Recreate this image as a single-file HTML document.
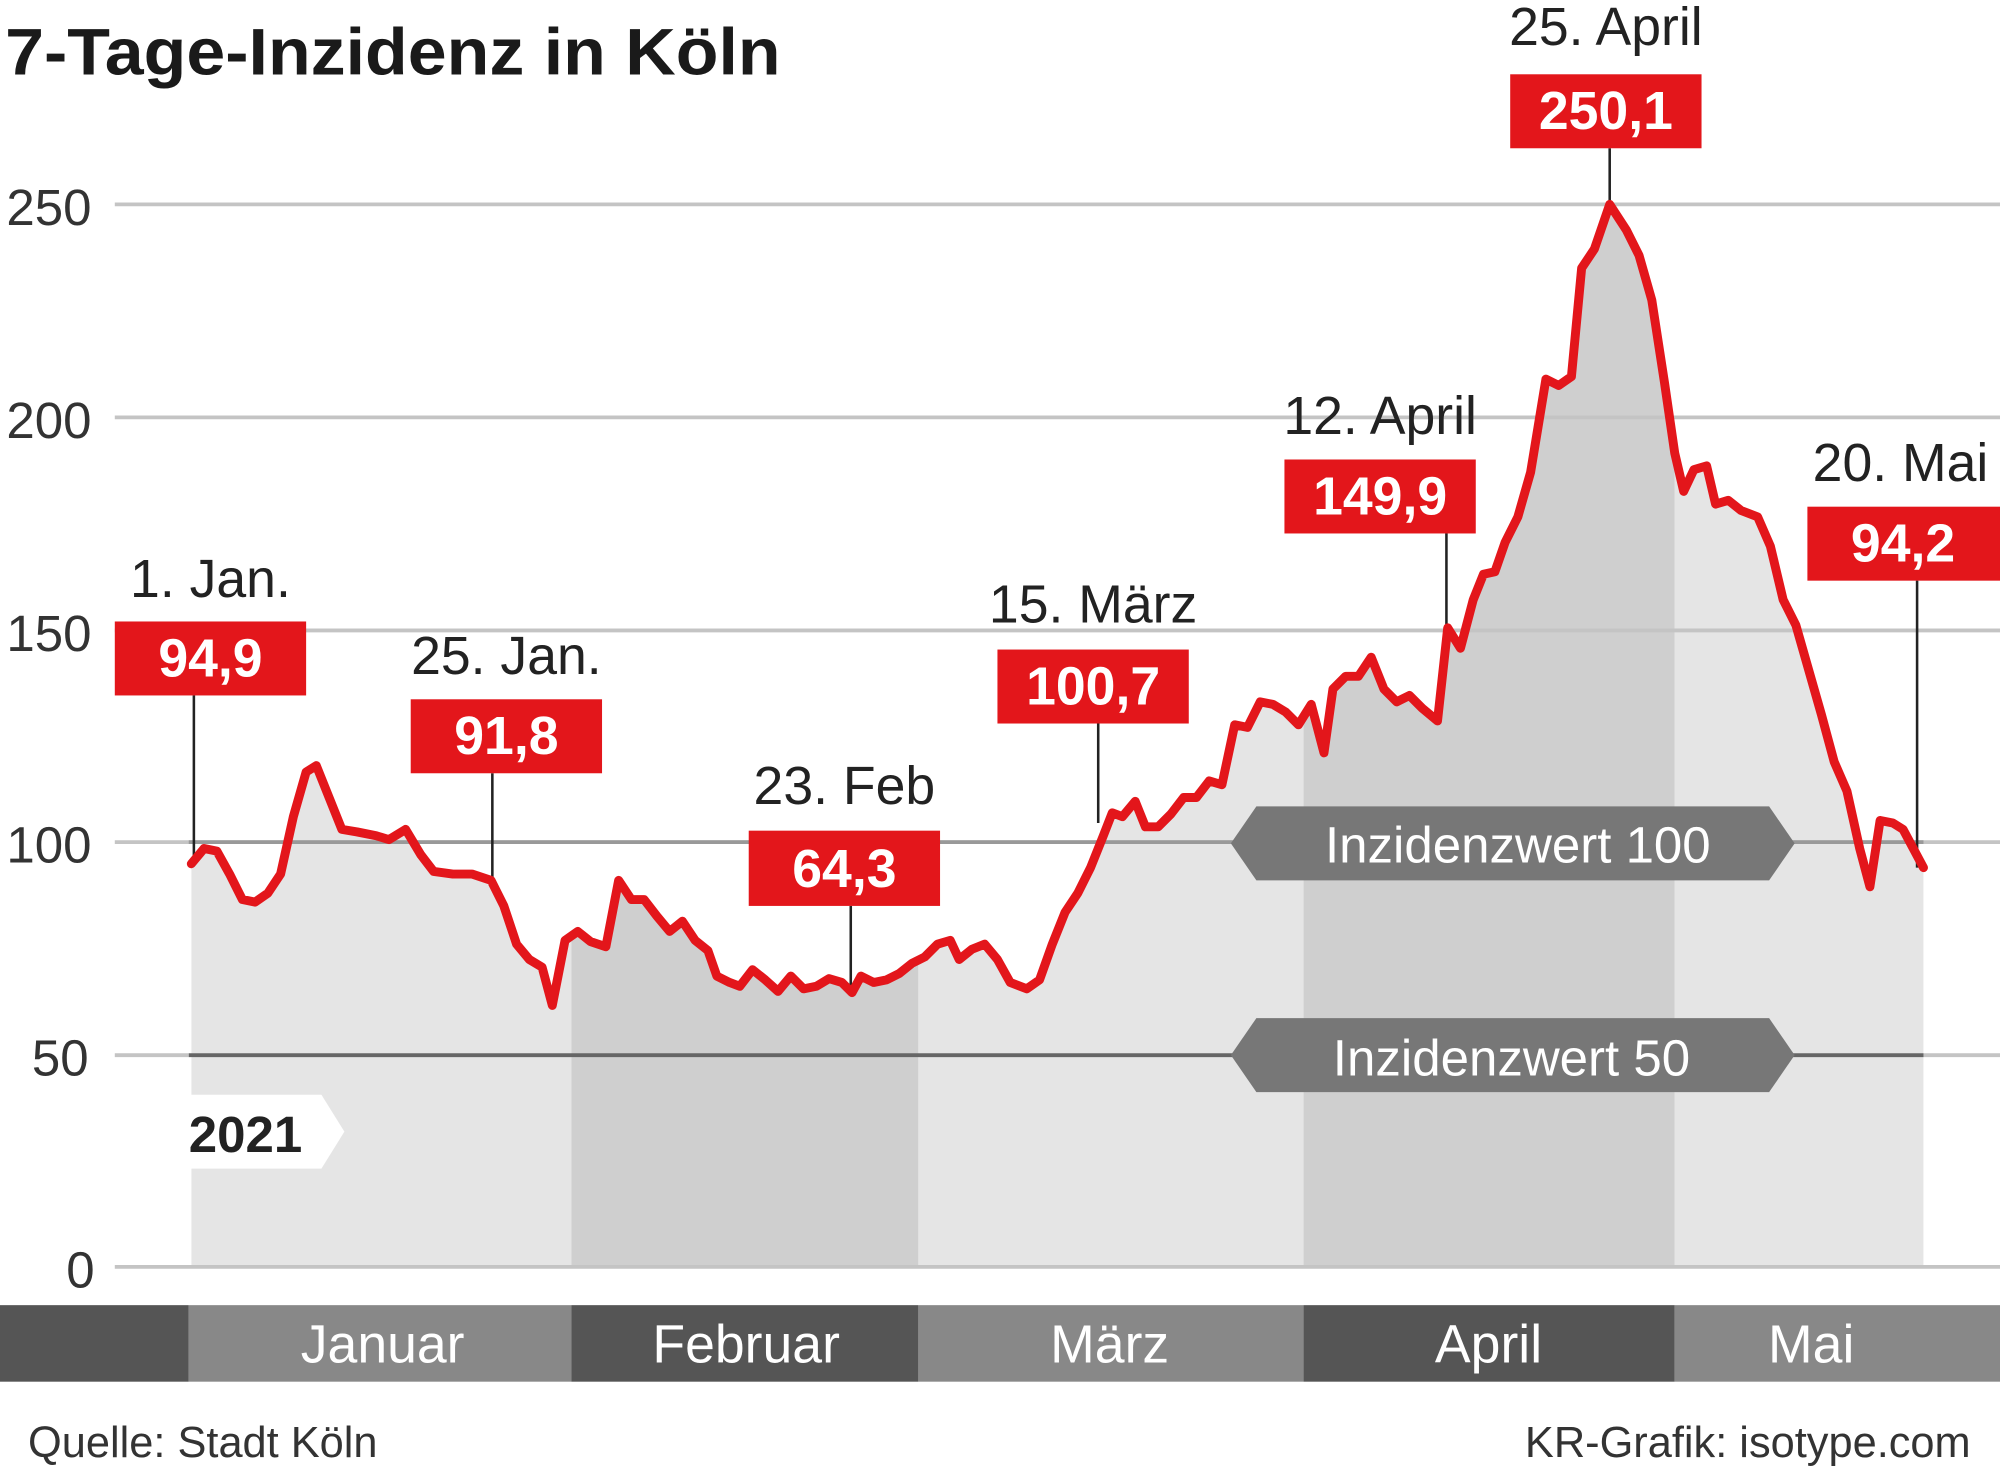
<!DOCTYPE html>
<html><head><meta charset="utf-8"><style>
html,body{margin:0;padding:0;background:#fff;}
svg{display:block;}
text{font-family:"Liberation Sans Narrow","Liberation Sans",sans-serif;}
</style></head><body>
<svg width="2000" height="1470" viewBox="0 0 1568 1152" xmlns="http://www.w3.org/2000/svg">
<defs>
<clipPath id="c"><polygon points="150,677 160,665 170,667 180,685 190,705 200,707 210,700 220,685 230,640 240,605 248,600 258,625 268,650 280,652 295,655 305,658 318,650 330,670 340,683 355,685 370,685 385,690 395,710 405,740 415,752 425,758 433,788 443,737 453,730 463,738 475,742 485,690 495,705 505,705 515,718 525,730 535,722 545,737 555,745 562,765 572,770 580,773 590,760 600,768 610,777 620,765 630,775 640,773 650,767 660,770 668,778 675,765 685,770 695,768 705,763 715,755 725,750 735,740 745,737 752,752 762,744 772,740 782,752 792,770 805,775 815,768 825,740 835,715 845,700 855,680 865,655 872,637 880,640 890,628 898,648 908,648 918,638 928,625 938,625 948,612 958,615 968,568 978,570 988,550 998,552 1008,558 1018,568 1028,552 1038,590 1045,540 1055,530 1065,530 1075,515 1085,540 1095,550 1105,545 1115,555 1127,565 1135,492 1145,508 1155,470 1163,450 1172,448 1180,425 1190,405 1200,370 1212,297 1222,302 1232,295 1240,210 1250,195 1262,160 1275,180 1285,200 1295,235 1305,300 1313,355 1320,385 1328,368 1338,365 1345,395 1355,392 1365,400 1378,405 1388,428 1398,470 1408,490 1418,525 1428,560 1438,597 1448,620 1458,665 1466,695 1474,643 1484,645 1492,650 1500,665 1508,680 1508,993 150,993"/></clipPath>
</defs>
<text x="4" y="58" font-size="52" font-weight="bold" fill="#1a1a1a" textLength="608" lengthAdjust="spacingAndGlyphs">7-Tage-Inzidenz in Köln</text>
<g clip-path="url(#c)">
<rect x="148" y="100" width="300" height="900" fill="#e5e5e5"/>
<rect x="448" y="100" width="272" height="900" fill="#cfcfcf"/>
<rect x="720" y="100" width="302" height="900" fill="#e5e5e5"/>
<rect x="1022" y="100" width="291" height="900" fill="#cfcfcf"/>
<rect x="1313" y="100" width="200" height="900" fill="#e5e5e5"/>
</g>
<g stroke="#c4c4c4" stroke-width="3">
<line x1="90" y1="160" x2="1568" y2="160"/><line x1="90" y1="327" x2="1568" y2="327"/>
<line x1="90" y1="494" x2="1568" y2="494"/><line x1="90" y1="660" x2="1568" y2="660"/>
<line x1="90" y1="827" x2="148" y2="827"/><line x1="1508" y1="827" x2="1568" y2="827"/>
<line x1="90" y1="993" x2="1568" y2="993"/>
</g>
<line x1="148" y1="660" x2="1508" y2="660" stroke="#999" stroke-width="3"/>
<line x1="148" y1="827" x2="1508" y2="827" stroke="#666" stroke-width="3"/>
<g font-size="40" fill="#333">
<text x="5" y="176">250</text><text x="5" y="343">200</text><text x="5" y="510">150</text>
<text x="5" y="676">100</text><text x="25" y="843">50</text><text x="52" y="1009">0</text>
</g>
<polygon points="965,661 985,632 1387,632 1407,661 1387,690 985,690" fill="#777"/>
<text x="1190" y="676" font-size="40" fill="#fff" text-anchor="middle">Inzidenzwert 100</text>
<polygon points="965,827 985,798 1387,798 1407,827 1387,856 985,856" fill="#777"/>
<text x="1185" y="843" font-size="40" fill="#fff" text-anchor="middle">Inzidenzwert 50</text>
<polygon points="148,858 252,858 270,887 252,916 148,916" fill="#fff"/>
<text x="148" y="903" font-size="40" font-weight="bold" fill="#222">2021</text>
<g stroke="#222" stroke-width="2">
<line x1="152" y1="545" x2="152" y2="677"/><line x1="386" y1="606" x2="386" y2="688"/>
<line x1="667" y1="710" x2="667" y2="778"/><line x1="861" y1="567" x2="861" y2="645"/>
<line x1="1134" y1="418" x2="1134" y2="492"/><line x1="1262" y1="116" x2="1262" y2="160"/>
<line x1="1503" y1="455" x2="1503" y2="680"/>
</g>
<polyline points="150,677 160,665 170,667 180,685 190,705 200,707 210,700 220,685 230,640 240,605 248,600 258,625 268,650 280,652 295,655 305,658 318,650 330,670 340,683 355,685 370,685 385,690 395,710 405,740 415,752 425,758 433,788 443,737 453,730 463,738 475,742 485,690 495,705 505,705 515,718 525,730 535,722 545,737 555,745 562,765 572,770 580,773 590,760 600,768 610,777 620,765 630,775 640,773 650,767 660,770 668,778 675,765 685,770 695,768 705,763 715,755 725,750 735,740 745,737 752,752 762,744 772,740 782,752 792,770 805,775 815,768 825,740 835,715 845,700 855,680 865,655 872,637 880,640 890,628 898,648 908,648 918,638 928,625 938,625 948,612 958,615 968,568 978,570 988,550 998,552 1008,558 1018,568 1028,552 1038,590 1045,540 1055,530 1065,530 1075,515 1085,540 1095,550 1105,545 1115,555 1127,565 1135,492 1145,508 1155,470 1163,450 1172,448 1180,425 1190,405 1200,370 1212,297 1222,302 1232,295 1240,210 1250,195 1262,160 1275,180 1285,200 1295,235 1305,300 1313,355 1320,385 1328,368 1338,365 1345,395 1355,392 1365,400 1378,405 1388,428 1398,470 1408,490 1418,525 1428,560 1438,597 1448,620 1458,665 1466,695 1474,643 1484,645 1492,650 1500,665 1508,680" fill="none" stroke="#e3161b" stroke-width="7" stroke-linejoin="round" stroke-linecap="round"/>
<g font-size="42" text-anchor="middle">
<rect x="90" y="487" width="150" height="58" fill="#e3161b"/><text x="165" y="530" fill="#fff" font-weight="bold">94,9</text><text x="165" y="468" fill="#222">1. Jan.</text>
<rect x="322" y="548" width="150" height="58" fill="#e3161b"/><text x="397" y="591" fill="#fff" font-weight="bold">91,8</text><text x="397" y="528" fill="#222">25. Jan.</text>
<rect x="587" y="651" width="150" height="59" fill="#e3161b"/><text x="662" y="695" fill="#fff" font-weight="bold">64,3</text><text x="662" y="630" fill="#222">23. Feb</text>
<rect x="782" y="509" width="150" height="58" fill="#e3161b"/><text x="857" y="552" fill="#fff" font-weight="bold">100,7</text><text x="857" y="488" fill="#222">15. März</text>
<rect x="1007" y="360" width="150" height="58" fill="#e3161b"/><text x="1082" y="403" fill="#fff" font-weight="bold">149,9</text><text x="1082" y="340" fill="#222">12. April</text>
<rect x="1184" y="58" width="150" height="58" fill="#e3161b"/><text x="1259" y="101" fill="#fff" font-weight="bold">250,1</text><text x="1259" y="35" fill="#222">25. April</text>
<rect x="1417" y="397" width="151" height="58" fill="#e3161b"/><text x="1492" y="440" fill="#fff" font-weight="bold">94,2</text><text x="1490" y="377" fill="#222">20. Mai</text>
</g>
<rect x="0" y="1023" width="148" height="60" fill="#555"/>
<rect x="148" y="1023" width="300" height="60" fill="#888"/>
<rect x="448" y="1023" width="272" height="60" fill="#555"/>
<rect x="720" y="1023" width="302" height="60" fill="#888"/>
<rect x="1022" y="1023" width="291" height="60" fill="#555"/>
<rect x="1313" y="1023" width="255" height="60" fill="#888"/>
<g font-size="42" fill="#fff" text-anchor="middle">
<text x="300" y="1068">Januar</text><text x="585" y="1068">Februar</text><text x="870" y="1068">März</text>
<text x="1167" y="1068">April</text><text x="1420" y="1068">Mai</text>
</g>
<text x="22" y="1142" font-size="34" fill="#333">Quelle: Stadt Köln</text>
<text x="1545" y="1142" font-size="34" fill="#333" text-anchor="end">KR-Grafik: isotype.com</text>
</svg>
</body></html>
